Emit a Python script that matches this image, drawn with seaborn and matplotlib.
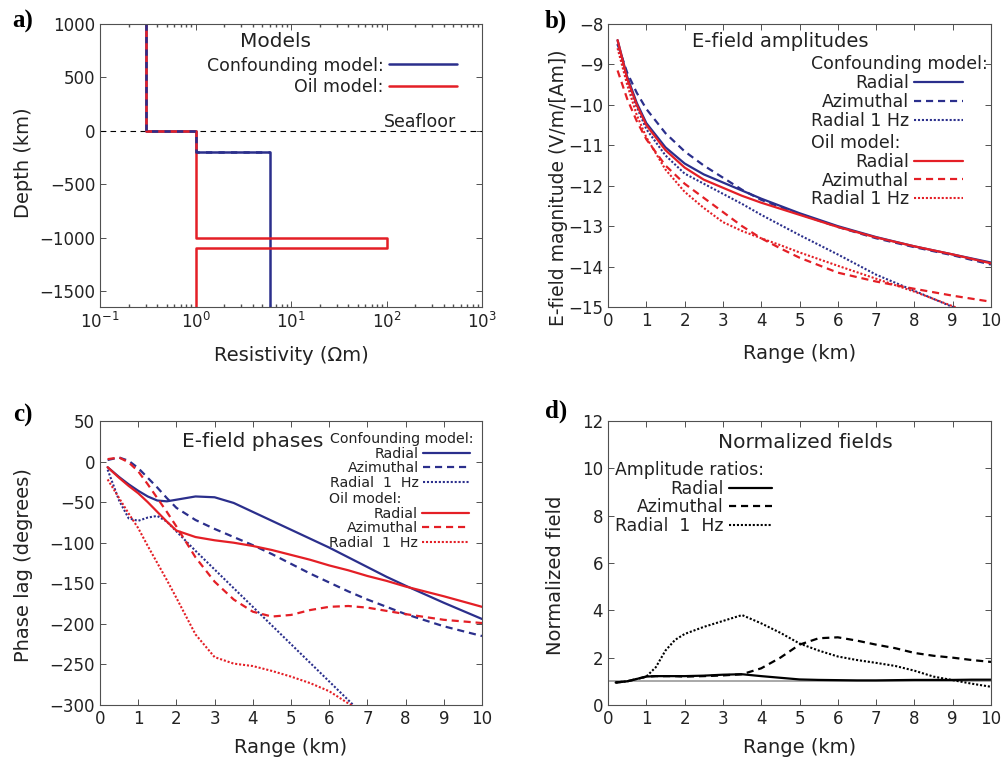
import numpy as np
import matplotlib
matplotlib.use("Agg")
import matplotlib.pyplot as plt
import seaborn as sns
from matplotlib.ticker import MultipleLocator, LogLocator, NullFormatter

# ---------------------------------------------------------------- data
# a) layered resistivity models (layer tops / bottoms in km, resistivity in ohm-m)
conf_top = [1000, 0, -200]
conf_bot = [0, -200, -2000]
conf_rho = [0.3, 1.0, 6.0]
oil_top = [1000, 0, -1000, -1100]
oil_bot = [0, -1000, -1100, -2000]
oil_rho = [0.3, 1.0, 100.0, 1.0]

# b) E-field amplitudes, log10 |E|
range_b = [0.25, 0.5, 0.75, 1, 1.5, 2, 2.5, 3, 3.5, 4, 4.5, 5, 6, 7, 8, 9, 10]
amp_conf_radial = [-8.4, -9.3, -9.95, -10.45, -11.05, -11.45, -11.72, -11.92, -12.12,
                   -12.32, -12.5, -12.68, -13.0, -13.27, -13.5, -13.7, -13.9]
amp_conf_azim = [-8.5, -9.2, -9.7, -10.1, -10.7, -11.15, -11.5, -11.8, -12.1,
                 -12.35, -12.53, -12.7, -13.02, -13.3, -13.52, -13.72, -13.95]
amp_conf_1hz = [-8.5, -9.4, -10.05, -10.6, -11.25, -11.7, -11.95, -12.2, -12.45,
                -12.72, -12.97, -13.22, -13.7, -14.2, -14.6, -15.0, -15.4]
amp_oil_radial = [-8.4, -9.35, -10.0, -10.5, -11.12, -11.55, -11.85, -12.05, -12.25,
                  -12.42, -12.57, -12.72, -13.02, -13.28, -13.5, -13.7, -13.92]
amp_oil_azim = [-9.15, -9.85, -10.4, -10.85, -11.5, -11.95, -12.3, -12.65, -13.0,
                -13.3, -13.55, -13.78, -14.15, -14.37, -14.55, -14.72, -14.87]
amp_oil_1hz = [-8.6, -9.5, -10.25, -10.8, -11.6, -12.15, -12.55, -12.9, -13.12,
               -13.3, -13.47, -13.65, -13.98, -14.3, -14.62, -14.98, -15.35]

# c) E-field phases (degrees)
range_c = [0.2, 0.5, 0.75, 1, 1.25, 1.5, 1.75, 2, 2.5, 3, 3.5, 4, 4.5, 5, 5.5, 6,
           6.5, 7, 7.5, 8, 9, 10]
ph_conf_radial = [-7, -19, -28, -36, -43, -48, -49, -47, -43, -44, -51, -62, -73, -84,
                  -95, -106, -118, -130, -142, -153, -174, -194]
ph_conf_azim = [2, 5, 1, -8, -20, -32, -45, -57, -72, -83, -93, -103, -114, -126,
                -138, -149, -160, -170, -179, -188, -203, -215]
ph_oil_radial = [-7, -20, -30, -39, -50, -62, -74, -85, -93, -97, -100, -104, -109,
                 -115, -121, -128, -134, -141, -147, -154, -166, -179]
ph_oil_azim = [3, 5, -1, -12, -28, -45, -62, -80, -118, -148, -170, -185, -191, -189,
               -183, -179, -178, -180, -184, -188, -195, -199]
range_c_1hz = [0.2, 0.5, 0.75, 1, 1.25, 1.5, 1.75, 2, 2.5, 3, 3.5, 4, 4.5, 5, 5.5, 6,
               6.5, 7]
ph_conf_1hz = [-10, -48, -70, -73, -69, -67, -74, -86, -110, -133, -156, -179, -202,
               -225, -248, -271, -294, -317]
ph_oil_1hz = [-22, -45, -64, -82, -104, -125, -146, -168, -213, -241, -249, -252,
              -258, -265, -273, -283, -298, -312]

# d) amplitude ratios oil / confounding
range_d = [0.2, 0.5, 0.75, 1, 1.25, 1.5, 1.75, 2, 2.5, 3, 3.5, 4, 4.5, 5, 5.5, 6,
           6.5, 7, 7.5, 8, 8.5, 9, 9.5, 10]
ratio_radial = [0.95, 1.0, 1.1, 1.2, 1.22, 1.22, 1.22, 1.22, 1.24, 1.28, 1.3, 1.22,
                1.15, 1.08, 1.06, 1.05, 1.04, 1.04, 1.05, 1.06, 1.06, 1.06, 1.07, 1.07]
ratio_azim = [0.95, 1.0, 1.1, 1.2, 1.22, 1.22, 1.22, 1.2, 1.22, 1.25, 1.3, 1.55, 2.0,
              2.55, 2.82, 2.86, 2.72, 2.55, 2.4, 2.2, 2.08, 2.0, 1.9, 1.82]
ratio_1hz = [0.95, 1.0, 1.1, 1.2, 1.6, 2.3, 2.75, 3.0, 3.3, 3.55, 3.8, 3.45, 3.05,
             2.6, 2.3, 2.05, 1.9, 1.78, 1.65, 1.45, 1.2, 1.05, 0.9, 0.77]

# ---------------------------------------------------------------- style
sns.set_theme(style="ticks")
TXT = "#222222"
plt.rcParams.update({
    "font.family": ["DejaVu Sans"],
    "axes.edgecolor": "#505050",
    "axes.linewidth": 0.8,
    "axes.labelcolor": TXT,
    "text.color": TXT,
    "xtick.color": "#505050",
    "ytick.color": "#505050",
    "xtick.labelcolor": TXT,
    "ytick.labelcolor": TXT,
    "xtick.direction": "in",
    "ytick.direction": "in",
    "xtick.top": True,
    "ytick.right": True,
    "xtick.major.size": 4,
    "ytick.major.size": 4,
    "xtick.minor.size": 2.2,
    "ytick.minor.size": 2.2,
    "xtick.major.width": 0.7,
    "ytick.major.width": 0.7,
    "xtick.labelsize": 12,
    "ytick.labelsize": 12,
    "axes.labelsize": 14,
})

BLUE = "#2b2f8c"
RED = "#e41f26"
DOT = (0, (1, 0.9))
DASH = (0, (3.2, 2.2))
LW = 1.6

W, H = 1006, 763
fig = plt.figure(figsize=(W / 100, H / 100), dpi=100)


def axes_px(left, top, right, bottom):
    return fig.add_axes([left / W, 1 - bottom / H, (right - left) / W, (bottom - top) / H])


ax_a = axes_px(100, 24, 482, 307)
ax_b = axes_px(608, 24, 991, 307)
ax_c = axes_px(100, 421, 482, 705)
ax_d = axes_px(608, 421, 991, 705)


def profile(tops, bots, rhos):
    depth = np.ravel(np.column_stack([tops, bots]))
    rho = np.repeat(rhos, 2)
    return rho, depth


def line(ax, x, y, color, ls="-", lw=LW, **kw):
    sns.lineplot(x=x, y=y, ax=ax, color=color, linestyle=ls, linewidth=lw,
                 sort=False, estimator=None, legend=False, **kw)
    return ax.lines[-1]


def legend(ax, handles, labels, title, size, anchor, loc, hlen, spacing=0.05):
    leg = ax.legend(handles, labels, title=title, loc=loc, bbox_to_anchor=anchor,
                    frameon=False, markerfirst=False, fontsize=size,
                    title_fontsize=size, handlelength=hlen, handletextpad=0.3,
                    labelspacing=spacing, borderpad=0, borderaxespad=0,
                    alignment="left", labelcolor=TXT)
    if title:
        leg.get_title().set_color(TXT)
    # keep it as a plain artist so several legends can share one axes
    ax.legend_ = None
    ax.add_artist(leg)
    return leg


# ---------------------------------------------------------------- a) models
cx, cy = profile(conf_top, conf_bot, conf_rho)
ox, oy = profile(oil_top, oil_bot, oil_rho)
ax_a.axhline(0, color="black", lw=0.8, linestyle=(0, (5, 4)))
h_conf = line(ax_a, cx, cy, BLUE, lw=1.8)
h_oil = line(ax_a, ox, oy, RED, lw=1.8)
shared = cy >= conf_bot[1]
line(ax_a, cx[shared], cy[shared], BLUE, ls=(0, (2.5, 2.5)), lw=1.8)
ax_a.set_xscale("log")
ax_a.set_xlim(0.1, 1000)
ax_a.set_ylim(-1650, 1000)
ax_a.xaxis.set_major_locator(LogLocator(base=10, numticks=10))
ax_a.xaxis.set_minor_locator(LogLocator(base=10, subs=np.arange(2, 10), numticks=20))
ax_a.xaxis.set_minor_formatter(NullFormatter())
ax_a.yaxis.set_major_locator(MultipleLocator(500))
ax_a.set_xlabel("Resistivity (Ωm)", labelpad=10)
ax_a.set_ylabel("Depth (km)")
ax_a.yaxis.set_label_coords(-0.175, 0.51)
ax_a.text(0.46, 0.92, "Models", transform=ax_a.transAxes, ha="center",
          va="baseline", fontsize=14.5)
ax_a.text(0.931, 0.637, "Seafloor", transform=ax_a.transAxes, ha="right",
          va="baseline", fontsize=12.5)
legend(ax_a, [h_conf, h_oil], ["Confounding model:", "Oil model:"], None, 12.5,
       (0.935, 0.885), "upper right", 3.95, spacing=0.2)

# ---------------------------------------------------------------- b) amplitudes
hb = [line(ax_b, range_b, amp_conf_radial, BLUE),
      line(ax_b, range_b, amp_conf_azim, BLUE, DASH),
      line(ax_b, range_b, amp_conf_1hz, BLUE, DOT, lw=1.5),
      line(ax_b, range_b, amp_oil_radial, RED),
      line(ax_b, range_b, amp_oil_azim, RED, DASH),
      line(ax_b, range_b, amp_oil_1hz, RED, DOT, lw=1.5)]
ax_b.set_xlim(0, 10)
ax_b.set_ylim(-15, -8)
ax_b.xaxis.set_major_locator(MultipleLocator(1))
ax_b.yaxis.set_major_locator(MultipleLocator(1))
ax_b.set_xlabel("Range (km)", labelpad=10)
ax_b.set_ylabel("E-field magnitude (V/m/[Am])", fontsize=13.5)
ax_b.yaxis.set_label_coords(-0.104, 0.42)
ax_b.text(0.449, 0.92, "E-field amplitudes", transform=ax_b.transAxes, ha="center",
          va="baseline", fontsize=14)
labels_b = ["Radial", "Azimuthal", "Radial 1 Hz"]
legend(ax_b, hb[:3], labels_b, "Confounding model:", 12.5, (0.53, 0.89),
       "upper left", 2.8)
legend(ax_b, hb[3:], labels_b, "Oil model:", 12.5, (0.53, 0.612), "upper left", 2.8)

# ---------------------------------------------------------------- c) phases
hc = [line(ax_c, range_c, ph_conf_radial, BLUE),
      line(ax_c, range_c, ph_conf_azim, BLUE, DASH),
      line(ax_c, range_c_1hz, ph_conf_1hz, BLUE, DOT, lw=1.5),
      line(ax_c, range_c, ph_oil_radial, RED),
      line(ax_c, range_c, ph_oil_azim, RED, DASH),
      line(ax_c, range_c_1hz, ph_oil_1hz, RED, DOT, lw=1.5)]
ax_c.set_xlim(0, 10)
ax_c.set_ylim(-300, 50)
ax_c.xaxis.set_major_locator(MultipleLocator(1))
ax_c.yaxis.set_major_locator(MultipleLocator(50))
ax_c.set_xlabel("Range (km)", labelpad=7)
ax_c.set_ylabel("Phase lag (degrees)")
ax_c.yaxis.set_label_coords(-0.175, 0.493)
ax_c.text(0.40, 0.909, "E-field phases", transform=ax_c.transAxes, ha="center",
          va="baseline", fontsize=14.5)
labels_c = ["Radial", "Azimuthal", "Radial  1  Hz"]
legend(ax_c, hc[:3], labels_c, "Confounding model:", 10.2, (0.602, 0.962),
       "upper left", 3.3)
legend(ax_c, hc[3:], labels_c, "Oil model:", 10.2, (0.600, 0.75), "upper left", 3.3)

# ---------------------------------------------------------------- d) ratios
ax_d.axhline(1, color="0.6", lw=1.2)
hd = [line(ax_d, range_d, ratio_radial, "black"),
      line(ax_d, range_d, ratio_azim, "black", DASH),
      line(ax_d, range_d, ratio_1hz, "black", DOT, lw=1.5)]
ax_d.set_xlim(0, 10)
ax_d.set_ylim(0, 12)
ax_d.xaxis.set_major_locator(MultipleLocator(1))
ax_d.yaxis.set_major_locator(MultipleLocator(2))
ax_d.set_xlabel("Range (km)", labelpad=7)
ax_d.set_ylabel("Normalized field")
ax_d.yaxis.set_label_coords(-0.112, 0.455)
ax_d.text(0.515, 0.904, "Normalized fields", transform=ax_d.transAxes, ha="center",
          va="baseline", fontsize=14.5)
legend(ax_d, hd, labels_c, "Amplitude ratios:", 12.4, (0.018, 0.86), "upper left", 2.55)

# ---------------------------------------------------------------- panel letters
for lx, ly, letter in [(12, 28, "a)"), (545, 28, "b)"), (13, 422, "c)"), (545, 418, "d)")]:
    fig.text(lx / W, 1 - ly / H, letter, fontsize=18, fontweight="bold",
             family="Liberation Serif", va="baseline", ha="left", color="black")

fig.savefig("out.png", dpi=100)
